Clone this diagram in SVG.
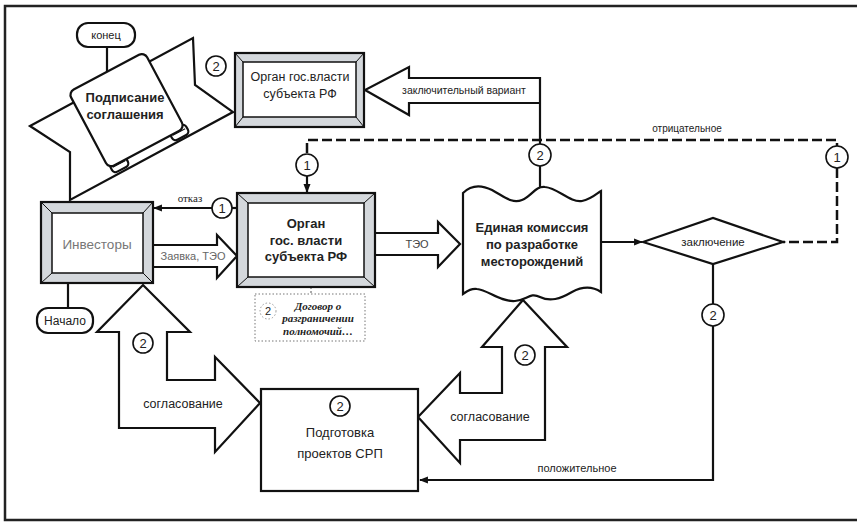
<svg xmlns="http://www.w3.org/2000/svg" width="858" height="522" viewBox="0 0 858 522">
<defs>
<marker id="ah" viewBox="0 0 10 10" refX="9" refY="5" markerWidth="4" markerHeight="4" orient="auto" markerUnits="strokeWidth"><path d="M0,1 L10,5 L0,9 z" fill="#111"/></marker>
<style>
text{font-family:"Liberation Sans Narrow","Liberation Sans",Arial,sans-serif;fill:#222;text-anchor:middle}
.b{font-weight:bold}
.ln{fill:none;stroke:#111;stroke-width:2.2}
.sh{fill:#fff;stroke:#111;stroke-width:2.2;stroke-linejoin:miter}
.bev{fill:#d4d8dc;stroke:#111;stroke-width:2.2}
.inr{fill:#fff;stroke:#111;stroke-width:1.5}
.dl{fill:none;stroke:#111;stroke-width:1}
.dash{fill:none;stroke:#111;stroke-width:2.5;stroke-dasharray:10 4}
.c{fill:#fff;stroke:#111;stroke-width:1.6}
.ct{font-size:13px}
.nt{font-size:11px;font-family:"Liberation Serif",serif;font-style:italic;font-weight:bold}
</style>
</defs>
<rect x="0" y="0" width="858" height="522" fill="#fff"/>
<path d="M857,6 L5,6 L5,520 L857,520" fill="none" stroke="#222" stroke-width="2.5"/>

<g id="connectors">
<line class="ln" x1="107" y1="47" x2="107" y2="72"/>
<line class="ln" x1="68" y1="283" x2="68" y2="308"/>
<line class="ln" x1="232" y1="208" x2="238" y2="208"/>
<line class="ln" x1="212" y1="208" x2="154" y2="208" marker-end="url(#ah)"/>
<text x="190" y="202" style="font-size:11px;font-family:'Liberation Serif',serif">отказ</text>
<path class="dash" d="M307,153 L307,140 L837,140 L837,146"/>
<path class="dash" d="M837,168 L837,242 L783,242"/>
<line class="ln" x1="307" y1="176" x2="307" y2="192" marker-end="url(#ah)"/>
<text x="687" y="132" style="font-size:10px">отрицательное</text>
<path class="ln" d="M540,103 L540,144"/>
<path class="ln" d="M540,166 L540,190"/>
<line class="ln" x1="602" y1="242" x2="642" y2="242" marker-end="url(#ah)"/>
<path class="ln" d="M713,264 L713,304"/>
<path class="ln" d="M713,326 L713,480 L420,480" marker-end="url(#ah)"/>
<text x="577" y="472" style="font-size:11px">положительное</text>
<line x1="311" y1="287" x2="311" y2="294" stroke="#555" stroke-width="1" stroke-dasharray="2 2"/>
<path class="sh" d="M153,245 L217,245 L217,235 L237,256 L217,278 L217,267 L153,267"/>
<text x="193" y="260" style="font-size:11px;fill:#666">Заявка, ТЭО</text>
<path class="sh" d="M375,233 L438,233 L438,222 L460,244 L438,267 L438,255 L375,255"/>
<text x="417" y="248" style="font-size:11px;fill:#444">ТЭО</text>
<path class="sh" d="M540,103 L409,103 L409,115 L365,90 L409,67 L409,78 L540,78 L540,103"/>
<text x="464" y="94" style="font-size:10.5px">заключительный вариант</text>
<path class="sh" d="M143,285 L190,332 L167,332 L167,380 L215,380 L215,357 L260,403 L215,452 L215,428 L119,428 L119,332 L97,332 Z"/>
<circle class="c" cx="143" cy="343" r="10"/><text class="ct" x="143" y="348">2</text>
<text x="183" y="408" style="font-size:12.5px">согласование</text>
<path class="sh" d="M523,300 L567,347 L545,347 L545,440 L460,440 L460,463 L418,417 L460,373 L460,393 L502,393 L502,347 L482,347 Z"/>
<circle class="c" cx="525" cy="355" r="10"/><text class="ct" x="525" y="360">2</text>
<text x="490" y="421" style="font-size:12.5px">согласование</text>
<circle class="c" cx="222" cy="208" r="10"/><text class="ct" x="222" y="213">1</text>
<circle class="c" cx="307" cy="165" r="11"/><text class="ct" x="307" y="170">1</text>
<circle class="c" cx="540" cy="155" r="11"/><text class="ct" x="540" y="160">2</text>
<circle class="c" cx="837" cy="157" r="11"/><text class="ct" x="837" y="162">1</text>
<circle class="c" cx="713" cy="315" r="11"/><text class="ct" x="713" y="320">2</text>
<circle class="c" cx="216" cy="66" r="10"/><text class="ct" x="216" y="71">2</text>
</g>

<g id="konec">
<rect class="sh" x="77" y="23" width="58" height="24" rx="11"/>
<text x="106" y="39" style="font-size:11px">конец</text>
</g>

<g id="signing">
<polygon class="sh" points="30,126 193,38 195,85 233,112 70,200 70,152"/>
<g transform="translate(127,111) rotate(-28)">
<rect class="sh" x="27" y="38" width="18" height="11" rx="4"/>
<line class="dl" x1="29" y1="43" x2="43" y2="43"/>
<rect class="sh" x="-41" y="38" width="18" height="11" rx="4"/>
<line class="dl" x1="-39" y1="43" x2="-25" y2="43"/>
<rect class="sh" x="-43" y="-44" width="86" height="86" rx="6"/>
</g>
<text class="b" x="125" y="102" style="font-size:13px">Подписание</text>
<text class="b" x="125" y="119" style="font-size:13px">соглашения</text>
</g>

<g id="organ-top">
<rect class="bev" x="235" y="53" width="129" height="74"/>
<rect class="inr" x="243" y="62" width="113" height="55"/>
<path class="dl" d="M235,53 L243,62 M364,53 L356,62 M235,127 L243,117 M364,127 L356,117"/>
<text x="300" y="81" style="font-size:12.5px">Орган гос.власти</text>
<text x="300" y="98" style="font-size:12.5px">субъекта РФ</text>
</g>

<g id="investors">
<rect class="bev" x="41" y="202" width="112" height="81"/>
<rect class="inr" x="52" y="213" width="91" height="60"/>
<path class="dl" d="M41,202 L52,213 M153,202 L143,213 M41,283 L52,273 M153,283 L143,273"/>
<text x="97" y="249" style="font-size:13.5px;fill:#777">Инвесторы</text>
</g>

<g id="nachalo">
<rect class="sh" x="37" y="308" width="56" height="25" rx="11"/>
<text x="65" y="325" style="font-size:12px">Начало</text>
</g>

<g id="organ-mid">
<rect class="bev" x="237" y="193" width="138" height="94"/>
<rect class="inr" x="248" y="203" width="116" height="74"/>
<path class="dl" d="M237,193 L248,203 M375,193 L364,203 M237,287 L248,277 M375,287 L364,277"/>
<text class="b" x="306" y="228" style="font-size:13px">Орган</text>
<text class="b" x="306" y="245" style="font-size:13px">гос. власти</text>
<text class="b" x="306" y="261" style="font-size:13px">субъекта РФ</text>
</g>

<g id="note">
<rect x="255" y="294" width="110" height="47" fill="#fff" stroke="#777" stroke-width="1" stroke-dasharray="1.5 2"/>
<circle cx="268" cy="311" r="8" fill="#fff" stroke="#999" stroke-width="1" stroke-dasharray="1.5 2"/>
<text x="268" y="315" style="font-size:11px">2</text>
<text class="nt" x="318" y="310">Договор о</text>
<text class="nt" x="318" y="322">разграничении</text>
<text class="nt" x="318" y="335">полномочий…</text>
</g>

<g id="commission">
<path class="sh" d="M463,193 C470,186 480,184 492,190 C505,197 512,204 522,200 C532,196 535,186 545,187 C558,188 570,203 582,201 C592,199 597,193 601,191 L601,292 C595,288 585,285 572,292 C560,299 550,302 540,297 C530,292 527,300 515,301 C500,302 488,290 477,289 C470,288 466,292 463,294 Z"/>
<text class="b" x="532" y="232" style="font-size:13px">Единая комиссия</text>
<text class="b" x="532" y="249" style="font-size:13px">по разработке</text>
<text class="b" x="532" y="266" style="font-size:13px">месторождений</text>
</g>

<g id="decision">
<polygon class="sh" points="643,242 713,218 783,242 713,264"/>
<text x="713" y="246" style="font-size:11.5px">заключение</text>
</g>

<g id="srp">
<rect class="sh" x="261" y="389" width="157" height="102"/>
<circle class="c" cx="340" cy="406" r="10"/><text class="ct" x="340" y="411">2</text>
<text x="340" y="437" style="font-size:13px">Подготовка</text>
<text x="340" y="458" style="font-size:13px">проектов СРП</text>
</g>
</svg>
